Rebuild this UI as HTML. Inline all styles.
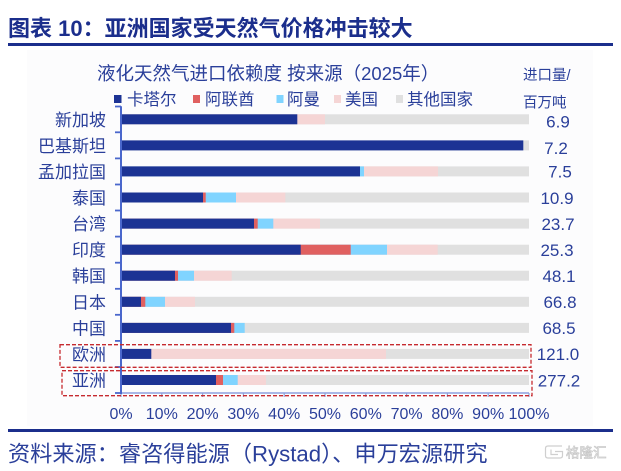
<!DOCTYPE html>
<html>
<head>
<meta charset="utf-8">
<style>
html,body{margin:0;padding:0;background:#fff;}
svg{display:block;}
text{font-family:"Liberation Sans","Noto Sans CJK SC",sans-serif;}
</style>
</head>
<body>
<svg width="621" height="471" viewBox="0 0 621 471" xmlns="http://www.w3.org/2000/svg">
  <rect x="0" y="0" width="621" height="471" fill="#ffffff"/>
  <rect x="27" y="50" width="566" height="376" fill="#fcfcfd"/>

  <!-- Title -->
  <text x="8" y="36" font-size="22" font-weight="bold" fill="#1b2e8c">图表 10：亚洲国家受天然气价格冲击较大</text>
  <rect x="8" y="43" width="605" height="3" fill="#1b2e8c"/>

  <!-- Subtitle -->
  <text x="97" y="80" font-size="18.5" fill="#2a3f9a">液化天然气进口依赖度 按来源（2025年）</text>
  <text x="523" y="80" font-size="14.5" fill="#2a3f9a">进口量/</text>
  <text x="523" y="107.5" font-size="14.5" fill="#2a3f9a">百万吨</text>

  <!-- Legend -->
  <g font-size="16.5" fill="#2a3f9a">
    <rect x="114" y="95" width="7.5" height="8" fill="#1c3394"/>
    <text x="127" y="105">卡塔尔</text>
    <rect x="193" y="95" width="7" height="8" fill="#e06060"/>
    <text x="205" y="105">阿联酋</text>
    <rect x="276.5" y="95" width="7" height="8" fill="#80d4ff"/>
    <text x="287" y="105">阿曼</text>
    <rect x="334" y="95" width="7" height="8" fill="#f5d5d5"/>
    <text x="345" y="105">美国</text>
    <rect x="396" y="95" width="7" height="8" fill="#e0e0e0"/>
    <text x="407" y="105">其他国家</text>
  </g>

  <!-- Bars -->
  <g>
    <rect x="121" y="114.3" width="408" height="10" fill="#e0e0e0"/>
    <rect x="121" y="114.3" width="204" height="10" fill="#f5d5d5"/>
    <rect x="121" y="114.3" width="176.3" height="10" fill="#1c3394"/>

    <rect x="121" y="140.4" width="408" height="10" fill="#e0e0e0"/>
    <rect x="121" y="140.4" width="402.3" height="10" fill="#1c3394"/>

    <rect x="121" y="166.4" width="408" height="10" fill="#e0e0e0"/>
    <rect x="121" y="166.4" width="317" height="10" fill="#f5d5d5"/>
    <rect x="121" y="166.4" width="243" height="10" fill="#80d4ff"/>
    <rect x="121" y="166.4" width="239" height="10" fill="#1c3394"/>

    <rect x="121" y="192.5" width="408" height="10" fill="#e0e0e0"/>
    <rect x="121" y="192.5" width="164.3" height="10" fill="#f5d5d5"/>
    <rect x="121" y="192.5" width="115" height="10" fill="#80d4ff"/>
    <rect x="121" y="192.5" width="84.7" height="10" fill="#e06060"/>
    <rect x="121" y="192.5" width="82" height="10" fill="#1c3394"/>

    <rect x="121" y="218.6" width="408" height="10" fill="#e0e0e0"/>
    <rect x="121" y="218.6" width="199" height="10" fill="#f5d5d5"/>
    <rect x="121" y="218.6" width="152.3" height="10" fill="#80d4ff"/>
    <rect x="121" y="218.6" width="136.7" height="10" fill="#e06060"/>
    <rect x="121" y="218.6" width="133" height="10" fill="#1c3394"/>

    <rect x="121" y="244.7" width="408" height="10" fill="#e0e0e0"/>
    <rect x="121" y="244.7" width="316.7" height="10" fill="#f5d5d5"/>
    <rect x="121" y="244.7" width="266" height="10" fill="#80d4ff"/>
    <rect x="121" y="244.7" width="229.7" height="10" fill="#e06060"/>
    <rect x="121" y="244.7" width="179.7" height="10" fill="#1c3394"/>

    <rect x="121" y="270.7" width="408" height="10" fill="#e0e0e0"/>
    <rect x="121" y="270.7" width="110.7" height="10" fill="#f5d5d5"/>
    <rect x="121" y="270.7" width="73" height="10" fill="#80d4ff"/>
    <rect x="121" y="270.7" width="57" height="10" fill="#e06060"/>
    <rect x="121" y="270.7" width="54" height="10" fill="#1c3394"/>

    <rect x="121" y="296.8" width="408" height="10" fill="#e0e0e0"/>
    <rect x="121" y="296.8" width="74" height="10" fill="#f5d5d5"/>
    <rect x="121" y="296.8" width="44" height="10" fill="#80d4ff"/>
    <rect x="121" y="296.8" width="24.3" height="10" fill="#e06060"/>
    <rect x="121" y="296.8" width="20" height="10" fill="#1c3394"/>

    <rect x="121" y="322.9" width="408" height="10" fill="#e0e0e0"/>
    <rect x="121" y="322.9" width="123.7" height="10" fill="#80d4ff"/>
    <rect x="121" y="322.9" width="113.3" height="10" fill="#e06060"/>
    <rect x="121" y="322.9" width="110" height="10" fill="#1c3394"/>

    <rect x="121" y="348.9" width="408" height="10" fill="#e0e0e0"/>
    <rect x="121" y="348.9" width="265" height="10" fill="#f5d5d5"/>
    <rect x="121" y="348.9" width="30.3" height="10" fill="#1c3394"/>

    <rect x="121" y="375" width="408" height="10" fill="#e0e0e0"/>
    <rect x="121" y="375" width="145" height="10" fill="#f5d5d5"/>
    <rect x="121" y="375" width="116.7" height="10" fill="#80d4ff"/>
    <rect x="121" y="375" width="102" height="10" fill="#e06060"/>
    <rect x="121" y="375" width="95" height="10" fill="#1c3394"/>
  </g>

  <!-- Axes -->
  <line x1="121" y1="393" x2="529" y2="393" stroke="#a9b7e6" stroke-width="2"/>
  <g stroke="#8fa1d9" stroke-width="1.2">
    <line x1="121" y1="393" x2="121" y2="397"/>
    <line x1="161.8" y1="393" x2="161.8" y2="397"/>
    <line x1="202.6" y1="393" x2="202.6" y2="397"/>
    <line x1="243.4" y1="393" x2="243.4" y2="397"/>
    <line x1="284.2" y1="393" x2="284.2" y2="397"/>
    <line x1="325" y1="393" x2="325" y2="397"/>
    <line x1="365.8" y1="393" x2="365.8" y2="397"/>
    <line x1="406.6" y1="393" x2="406.6" y2="397"/>
    <line x1="447.4" y1="393" x2="447.4" y2="397"/>
    <line x1="488.2" y1="393" x2="488.2" y2="397"/>
    <line x1="529" y1="393" x2="529" y2="397"/>
  </g>
  <line x1="121" y1="106.3" x2="121" y2="394" stroke="#4a67cc" stroke-width="2"/>
  <g stroke="#4a67cc" stroke-width="1.8">
    <line x1="115" y1="106.5" x2="121" y2="106.5"/>
    <line x1="115" y1="132.3" x2="121" y2="132.3"/>
    <line x1="115" y1="158.4" x2="121" y2="158.4"/>
    <line x1="115" y1="184.5" x2="121" y2="184.5"/>
    <line x1="115" y1="210.5" x2="121" y2="210.5"/>
    <line x1="115" y1="236.6" x2="121" y2="236.6"/>
    <line x1="115" y1="262.7" x2="121" y2="262.7"/>
    <line x1="115" y1="288.8" x2="121" y2="288.8"/>
    <line x1="115" y1="314.8" x2="121" y2="314.8"/>
    <line x1="115" y1="340.9" x2="121" y2="340.9"/>
    <line x1="115" y1="367" x2="121" y2="367"/>
    <line x1="115" y1="393" x2="121" y2="393"/>
  </g>

  <!-- Category labels -->
  <g font-size="17" fill="#2a3f9a" text-anchor="end">
    <text x="106" y="125.8">新加坡</text>
    <text x="106" y="151.9">巴基斯坦</text>
    <text x="106" y="177.9">孟加拉国</text>
    <text x="106" y="204">泰国</text>
    <text x="106" y="230.1">台湾</text>
    <text x="106" y="256.2">印度</text>
    <text x="106" y="282.2">韩国</text>
    <text x="106" y="308.3">日本</text>
    <text x="106" y="334.4">中国</text>
    <text x="106" y="360.4">欧洲</text>
    <text x="106" y="386.5">亚洲</text>
  </g>

  <!-- Value labels -->
  <g font-size="17" fill="#2a3f9a" text-anchor="middle">
    <text x="558" y="127.5">6.9</text>
    <text x="556" y="154">7.2</text>
    <text x="560" y="177.5">7.5</text>
    <text x="557" y="204">10.9</text>
    <text x="558" y="230">23.7</text>
    <text x="557" y="256">25.3</text>
    <text x="559" y="282">48.1</text>
    <text x="560" y="308">66.8</text>
    <text x="559" y="334">68.5</text>
    <text x="558" y="360">121.0</text>
    <text x="559" y="386.5">277.2</text>
  </g>

  <!-- X tick labels -->
  <g font-size="16" fill="#2a3f9a" text-anchor="middle">
    <text x="121" y="419">0%</text>
    <text x="161.8" y="419">10%</text>
    <text x="202.6" y="419">20%</text>
    <text x="243.4" y="419">30%</text>
    <text x="284.2" y="419">40%</text>
    <text x="325" y="419">50%</text>
    <text x="365.8" y="419">60%</text>
    <text x="406.6" y="419">70%</text>
    <text x="447.4" y="419">80%</text>
    <text x="488.2" y="419">90%</text>
    <text x="529" y="419">100%</text>
  </g>

  <!-- Dashed highlight boxes -->
  <rect x="60" y="344.7" width="471" height="22.6" fill="none" stroke="#c62a2f" stroke-width="1.3" stroke-dasharray="4,2"/>
  <rect x="62" y="370.7" width="470" height="25" fill="none" stroke="#c62a2f" stroke-width="1.3" stroke-dasharray="4,2"/>

  <!-- Bottom rule and source -->
  <rect x="8" y="429" width="605" height="3" fill="#1b2e8c"/>
  <text x="8" y="461.5" font-size="22.2" fill="#2a3f9a">资料来源：睿咨得能源（Rystad）、申万宏源研究</text>

  <!-- Watermark -->
  <g fill="none" stroke="#cfcfcf" stroke-width="1.2">
    <path d="M562 446 H548 Q545.5 446 545.5 448.5 V455.5 Q545.5 458 548 458 H560 Q562.5 458 562.5 455.5 V451.5 H555"/>
    <path d="M551 449.5 V454.5 H558"/>
  </g>
  <text x="566" y="457.5" font-size="13.5" fill="#ffffff" stroke="#c8c8c8" stroke-width="0.7">格隆汇</text>
</svg>
</body>
</html>
